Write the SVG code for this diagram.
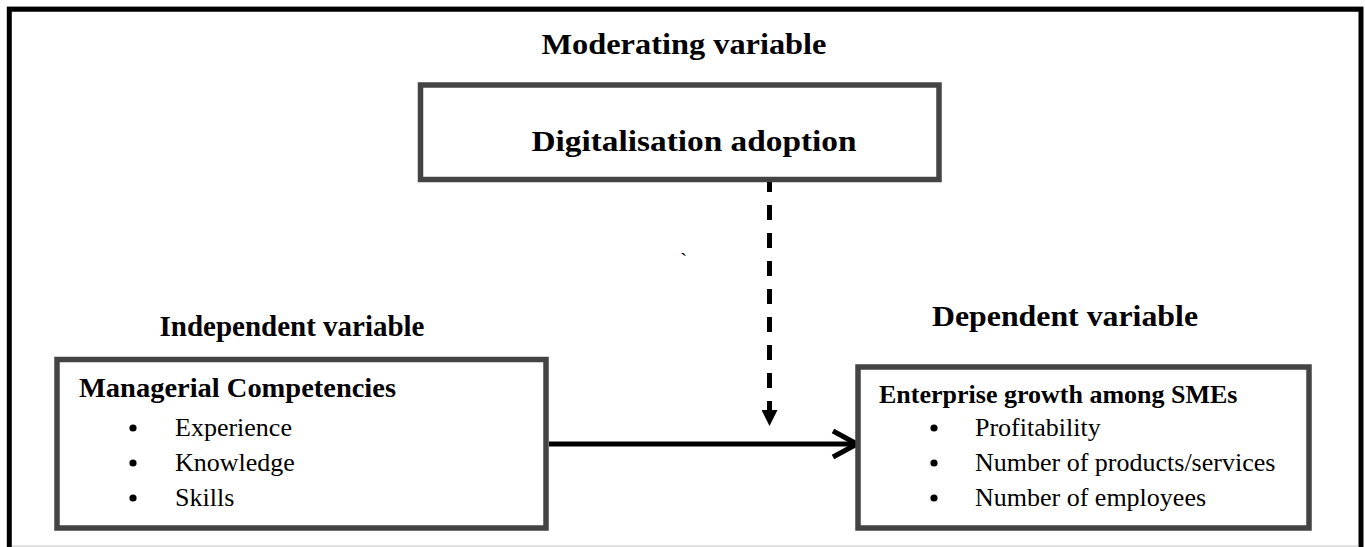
<svg xmlns="http://www.w3.org/2000/svg" width="1365" height="547" viewBox="0 0 1365 547">
  <style>
    .frame { fill: none; stroke: #000; stroke-width: 5; }
    .box { fill: #fff; stroke: #444; stroke-width: 5.5; }
    .head { font-family: "Liberation Serif", "Times New Roman", serif; font-weight: bold; fill: #000; }
    .item { font-family: "Liberation Serif", "Times New Roman", serif; font-size: 26px; fill: #000; }
    .bullet { fill: #000; }
    .edge { fill: none; stroke: #000; stroke-width: 5; }
  </style>
  <defs>
    <marker id="tri" viewBox="0 0 16 16" refX="8" refY="16" markerWidth="16" markerHeight="16" markerUnits="userSpaceOnUse" orient="0">
      <path d="M0,0 L16,0 L8,16 Z" fill="#000"/>
    </marker>
  </defs>

  <rect width="1365" height="547" fill="#fff"/>

  <!-- page edges and outer frame (open at the bottom) -->
  <line x1="7" y1="6.5" x2="1363" y2="6.5" stroke="#c8c8c8" stroke-width="1"/>
  <line x1="12" y1="546" x2="1358" y2="546" stroke="#d8d8d8" stroke-width="1.5"/>
  <path class="frame" d="M9.3,547 V9.3 H1361 V547"/>

  <!-- section headings -->
  <text class="head" x="684" y="54" font-size="30" text-anchor="middle" textLength="285" lengthAdjust="spacingAndGlyphs">Moderating variable</text>
  <text class="head" x="292" y="336" font-size="30" text-anchor="middle" textLength="265" lengthAdjust="spacingAndGlyphs">Independent variable</text>
  <text class="head" x="1065" y="326" font-size="30" text-anchor="middle" textLength="266" lengthAdjust="spacingAndGlyphs">Dependent variable</text>

  <!-- stray mark -->
  <text x="680" y="268" font-family="Liberation Serif, serif" font-size="22" fill="#000">`</text>

  <!-- connectors -->
  <g id="connectors">
    <line class="edge" x1="769.5" y1="177" x2="769.5" y2="426" stroke-width="4.5" stroke-dasharray="15 13" marker-end="url(#tri)"/>
    <line class="edge" x1="549" y1="444" x2="855" y2="444"/>
    <polyline class="edge" points="833,431 857,444 833,457" stroke-linejoin="miter"/>
  </g>

  <!-- moderator -->
  <g id="node-digitalisation">
    <rect class="box" x="420.5" y="85" width="518.5" height="94.5" stroke-width="5"/>
    <text class="head" x="694" y="151" font-size="30" text-anchor="middle" textLength="325" lengthAdjust="spacingAndGlyphs">Digitalisation adoption</text>
  </g>

  <!-- independent variable -->
  <g id="node-managerial">
    <rect class="box" x="57" y="359.5" width="489" height="168.5"/>
    <text class="head" x="79" y="397" font-size="27" textLength="317" lengthAdjust="spacingAndGlyphs">Managerial Competencies</text>
    <circle class="bullet" cx="133" cy="428" r="3.6"/>
    <text class="item" x="175" y="436">Experience</text>
    <circle class="bullet" cx="133" cy="463" r="3.6"/>
    <text class="item" x="175" y="471">Knowledge</text>
    <circle class="bullet" cx="133" cy="498" r="3.6"/>
    <text class="item" x="175" y="506">Skills</text>
  </g>

  <!-- dependent variable -->
  <g id="node-growth">
    <rect class="box" x="858" y="367" width="451" height="161"/>
    <text class="head" x="879" y="403" font-size="26">Enterprise growth among SMEs</text>
    <circle class="bullet" cx="934" cy="428" r="3.6"/>
    <text class="item" x="975" y="436">Profitability</text>
    <circle class="bullet" cx="934" cy="463" r="3.6"/>
    <text class="item" x="975" y="471">Number of products/services</text>
    <circle class="bullet" cx="934" cy="498" r="3.6"/>
    <text class="item" x="975" y="506">Number of employees</text>
  </g>
</svg>
